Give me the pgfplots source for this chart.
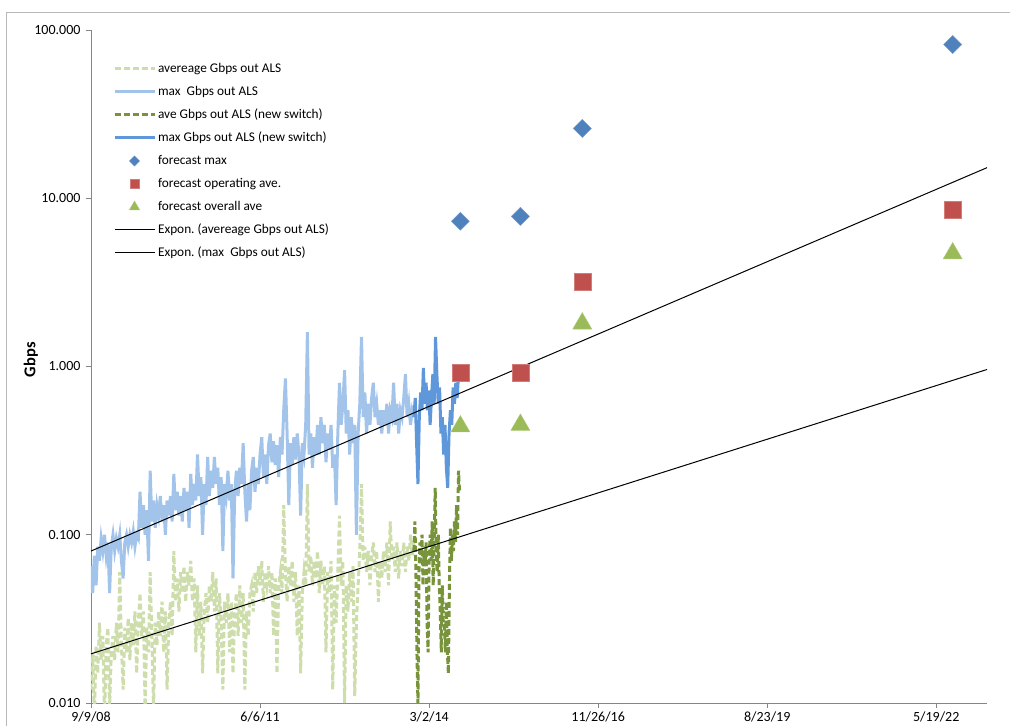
\documentclass[border=0pt]{standalone}
\usepackage{pgfplots}
\pgfplotsset{compat=1.18}
\usepackage{fontspec}
\setmainfont{Carlito}

\definecolor{avglight}{RGB}{206,221,172}
\definecolor{maxlight}{RGB}{163,196,234}
\definecolor{avgnew}{RGB}{120,148,58}
\definecolor{maxnew}{RGB}{95,152,218}
\definecolor{fcmax}{RGB}{79,129,189}
\definecolor{fcop}{RGB}{192,80,77}
\definecolor{fcall}{RGB}{155,187,89}
\definecolor{axisgray}{RGB}{134,134,134}

\pgfplotsset{
    markleg/.style={legend image code/.code={\draw[##1, mark size=#1] plot coordinates {(20pt,0pt)};}},
}

\begin{document}
\frenchspacing
\begin{tikzpicture}
\useasboundingbox (0,0) rectangle (1010pt,726pt);
\begin{axis}[
    at={(91pt,23pt)}, anchor=south west,
    scale only axis,
    width=896pt, height=673pt,
    xmin=0, xmax=5300,
    ymode=log, ymin=0.01, ymax=100,
    axis x line*=bottom, axis y line*=left,
    axis line style={axisgray, line width=0.9pt},
    tick style={axisgray, line width=0.9pt},
    tick align=outside, major tick length=5pt,
    yminorticks=false, xminorticks=false,
    xtick={0,1000,2000,3000,4000,5000},
    xticklabels={9/9/08,6/6/11,3/2/14,11/26/16,8/23/19,5/19/22},
    ytick={0.01,0.1,1,10,100},
    yticklabels={0.010,0.100,1.000,10.000,100.000},
    tick label style={font=\fontsize{14}{16}\selectfont},
    yticklabel style={xshift=-2pt},
    ylabel={Gbps},
    ylabel style={font=\fontsize{16.5}{18}\selectfont\bfseries, at={(axis description cs:-0.067,0.51)}, anchor=center},
    clip=true,
    legend cell align=left,
    legend style={at={(0.021,0.958)}, anchor=north west, draw=none, fill=none,
        font=\fontsize{13.3}{15}\selectfont,
        nodes={text height=10pt, text depth=3pt, inner sep=2pt},
        row sep=6pt, column sep=0pt},
    legend image code/.code={\draw[#1] (0pt,0pt) -- (40pt,0pt);},
]
% average, old switch
\addplot[avglight, line width=3pt, dash pattern=on 6pt off 3pt] coordinates {
(0,0.012) (10,0.02) (20,0.008) (30,0.022) (40,0.015) (50,0.03) (60,0.018) (70,0.025) (80,0.008) (90,0.022)
(100,0.028) (110,0.009) (120,0.02) (130,0.025) (140,0.018) (150,0.03) (160,0.02) (170,0.06) (180,0.022) (190,0.012)
(200,0.028) (210,0.02) (220,0.032) (230,0.018) (240,0.03) (250,0.022) (260,0.035) (270,0.015) (280,0.03) (290,0.045)
(300,0.025) (310,0.035) (320,0.009) (330,0.028) (340,0.02) (350,0.06) (360,0.025) (370,0.009) (380,0.03) (390,0.022)
(400,0.035) (410,0.025) (420,0.04) (430,0.02) (440,0.035) (450,0.012) (460,0.03) (470,0.04) (480,0.025) (490,0.08)
(500,0.04) (510,0.055) (520,0.035) (530,0.06) (540,0.045) (550,0.065) (560,0.04) (570,0.06) (580,0.05) (590,0.07)
(600,0.04) (610,0.055) (620,0.02) (630,0.05) (640,0.025) (650,0.04) (660,0.015) (670,0.035) (680,0.045) (690,0.03)
(700,0.05) (710,0.04) (720,0.06) (730,0.035) (740,0.055) (750,0.015) (760,0.045) (770,0.03) (780,0.012) (790,0.04)
(800,0.03) (810,0.045) (820,0.02) (830,0.04) (840,0.015) (850,0.035) (860,0.045) (870,0.025) (880,0.05) (890,0.03)
(900,0.045) (910,0.012) (920,0.035) (930,0.025) (940,0.045) (950,0.05) (960,0.035) (970,0.06) (980,0.045) (990,0.065)
(1000,0.05) (1010,0.07) (1020,0.04) (1030,0.06) (1040,0.05) (1050,0.065) (1060,0.045) (1070,0.06) (1080,0.025) (1090,0.055)
(1100,0.015) (1110,0.05) (1120,0.06) (1130,0.045) (1140,0.15) (1150,0.06) (1160,0.04) (1170,0.065) (1180,0.05) (1190,0.07)
(1200,0.04) (1210,0.06) (1220,0.025) (1230,0.05) (1240,0.015) (1250,0.045) (1260,0.06) (1270,0.05) (1280,0.2) (1290,0.06)
(1300,0.075) (1310,0.05) (1320,0.07) (1330,0.055) (1340,0.08) (1350,0.045) (1360,0.07) (1370,0.05) (1380,0.065) (1390,0.02)
(1400,0.06) (1410,0.045) (1420,0.07) (1430,0.012) (1440,0.05) (1450,0.03) (1460,0.06) (1470,0.13) (1480,0.05) (1490,0.07)
(1500,0.01) (1510,0.05) (1520,0.035) (1530,0.06) (1540,0.04) (1550,0.065) (1560,0.011) (1570,0.03) (1580,0.05) (1590,0.08)
(1600,0.2) (1610,0.07) (1620,0.085) (1630,0.06) (1640,0.08) (1650,0.05) (1660,0.075) (1670,0.09) (1680,0.06) (1690,0.08)
(1700,0.04) (1710,0.07) (1720,0.055) (1730,0.08) (1740,0.06) (1750,0.09) (1760,0.05) (1770,0.12) (1780,0.07) (1790,0.085)
(1800,0.06) (1810,0.09) (1820,0.055) (1830,0.08) (1840,0.065) (1850,0.09) (1860,0.06) (1870,0.085) (1880,0.07) (1890,0.1)
(1900,0.075) (1910,0.09)
};
\addlegendentry{avereage Gbps out ALS}
% maximum, old switch
\addplot[maxlight, line width=3pt] coordinates {
(0,0.065) (10,0.045) (20,0.075) (30,0.05) (40,0.085) (50,0.07) (60,0.095) (70,0.08) (80,0.1) (90,0.075)
(100,0.09) (110,0.045) (120,0.085) (130,0.1) (140,0.08) (150,0.095) (160,0.085) (170,0.1) (180,0.07) (190,0.055)
(200,0.09) (210,0.1) (220,0.085) (230,0.1) (240,0.09) (250,0.105) (260,0.085) (270,0.1) (280,0.095) (290,0.18)
(300,0.11) (310,0.15) (320,0.1) (330,0.14) (340,0.07) (350,0.24) (360,0.12) (370,0.16) (380,0.11) (390,0.15)
(400,0.13) (410,0.17) (420,0.12) (430,0.15) (440,0.1) (450,0.16) (460,0.13) (470,0.17) (480,0.12) (490,0.23)
(500,0.14) (510,0.18) (520,0.13) (530,0.17) (540,0.12) (550,0.19) (560,0.14) (570,0.18) (580,0.11) (590,0.23)
(600,0.15) (610,0.2) (620,0.16) (630,0.3) (640,0.17) (650,0.22) (660,0.1) (670,0.2) (680,0.15) (690,0.29)
(700,0.17) (710,0.24) (720,0.19) (730,0.29) (740,0.2) (750,0.25) (760,0.15) (770,0.22) (780,0.08) (790,0.2)
(800,0.17) (810,0.24) (820,0.16) (830,0.2) (840,0.055) (850,0.18) (860,0.24) (870,0.17) (880,0.25) (890,0.2)
(900,0.35) (910,0.18) (920,0.12) (930,0.2) (940,0.14) (950,0.24) (960,0.29) (970,0.18) (980,0.25) (990,0.2)
(1000,0.3) (1010,0.38) (1020,0.22) (1030,0.3) (1040,0.2) (1050,0.34) (1060,0.4) (1070,0.27) (1080,0.36) (1090,0.26)
(1100,0.34) (1110,0.22) (1120,0.38) (1130,0.3) (1140,0.55) (1150,0.85) (1160,0.4) (1170,0.15) (1180,0.35) (1190,0.26)
(1200,0.38) (1210,0.28) (1220,0.4) (1230,0.3) (1240,0.13) (1250,0.35) (1260,0.3) (1270,0.45) (1280,1.6) (1290,0.3)
(1300,0.4) (1310,0.25) (1320,0.38) (1330,0.3) (1340,0.45) (1350,0.3) (1360,0.5) (1370,0.35) (1380,0.45) (1390,0.27)
(1400,0.4) (1410,0.32) (1420,0.45) (1430,0.25) (1440,0.3) (1450,0.15) (1460,0.4) (1470,0.8) (1480,0.45) (1490,0.6)
(1500,0.95) (1510,0.4) (1520,0.55) (1530,0.3) (1540,0.5) (1550,0.35) (1560,0.45) (1570,0.1) (1580,0.4) (1590,0.6)
(1600,1.5) (1610,0.5) (1620,0.7) (1630,0.4) (1640,0.6) (1650,0.45) (1660,0.65) (1670,0.8) (1680,0.5) (1690,0.6)
(1700,0.45) (1710,0.55) (1720,0.4) (1730,0.55) (1740,0.45) (1750,0.6) (1760,0.4) (1770,0.55) (1780,0.5) (1790,0.8)
(1800,0.45) (1810,0.6) (1820,0.4) (1830,0.55) (1840,0.5) (1850,0.65) (1860,0.9) (1870,0.5) (1880,0.6) (1890,0.45)
(1900,0.55) (1910,0.5)
};
\addlegendentry{max\ \ Gbps out ALS}
% average, new switch
\addplot[avgnew, line width=3pt, dash pattern=on 6pt off 3pt] coordinates {
(1910,0.08) (1916,0.12) (1922,0.06) (1928,0.02) (1934,0.01) (1940,0.06) (1946,0.09) (1952,0.07) (1958,0.1) (1964,0.05)
(1970,0.08) (1976,0.065) (1982,0.09) (1988,0.03) (1994,0.02) (2000,0.07) (2006,0.1) (2012,0.07) (2018,0.12) (2024,0.05)
(2030,0.09) (2036,0.19) (2042,0.08) (2048,0.06) (2054,0.1) (2060,0.05) (2066,0.035) (2072,0.02) (2078,0.05) (2084,0.03)
(2090,0.03) (2096,0.02) (2102,0.04) (2108,0.02) (2114,0.015) (2120,0.05) (2126,0.11) (2132,0.07) (2138,0.1) (2144,0.08)
(2150,0.12) (2156,0.09) (2162,0.15) (2168,0.1) (2174,0.24) (2180,0.18)
};
\addlegendentry{ave Gbps out ALS (new switch)}
% maximum, new switch
\addplot[maxnew, line width=3pt] coordinates {
(1910,0.5) (1918,0.65) (1926,0.35) (1934,0.2) (1942,0.5) (1950,0.7) (1958,0.55) (1966,0.98) (1974,0.6) (1982,0.8)
(1990,0.55) (1998,0.72) (2006,0.45) (2014,0.65) (2022,0.9) (2030,0.6) (2038,1.5) (2046,0.9) (2054,0.6) (2062,0.75)
(2070,0.4) (2078,0.5) (2086,0.3) (2094,0.45) (2102,0.25) (2110,0.19) (2118,0.4) (2126,0.55) (2134,0.45) (2142,0.75)
(2150,0.6) (2158,0.8) (2166,0.65) (2174,0.9) (2180,1.0)
};
\addlegendentry{max Gbps out ALS (new switch)}
% forecasts
\addplot[only marks, mark=square*, mark size=6.4pt, mark options={rotate=45, fill=fcmax, draw=fcmax!80!white}, markleg=3.6pt]
    coordinates {(2185,7.3) (2540,7.8) (2906,26) (5097,82)};
\addlegendentry{forecast max}
\addplot[only marks, mark=square*, mark size=8.5pt, mark options={fill=fcop, draw=fcop!75!white}, markleg=4.6pt]
    coordinates {(2185,0.92) (2540,0.92) (2906,3.2) (5097,8.6)};
\addlegendentry{forecast operating ave.}
\addplot[only marks, mark=triangle*, mark size=11pt, mark options={fill=fcall, draw=fcall!80!white}, markleg=6pt]
    coordinates {(2185,0.44) (2540,0.45) (2906,1.8) (5097,4.7)};
\addlegendentry{forecast overall ave}
% exponential trend lines
\addplot[black, line width=1pt] coordinates {(0,0.0196) (5300,0.96)};
\addlegendentry{Expon. (avereage Gbps out ALS)}
\addplot[black, line width=1pt] coordinates {(0,0.080) (5300,15.2)};
\addlegendentry{Expon. (max\ \ Gbps out ALS)}
\end{axis}
\draw[gray!55, line width=1pt] (6.5pt,-2pt) -- (6.5pt,713pt) -- (1012pt,713pt);
\end{tikzpicture}
\end{document}
